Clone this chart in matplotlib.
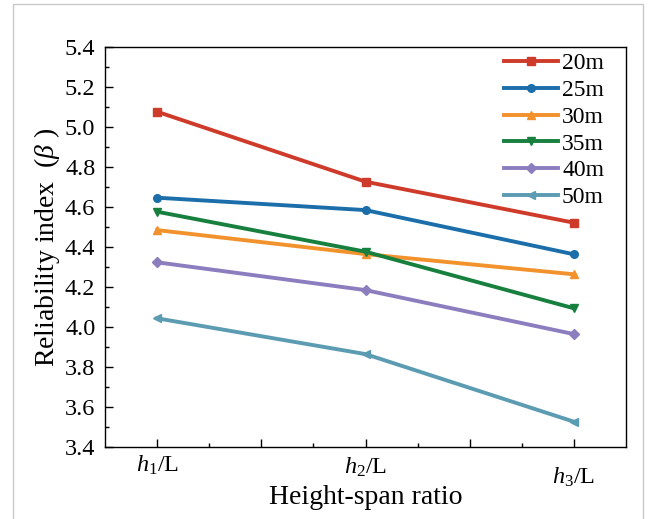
import matplotlib
matplotlib.use("Agg")
import matplotlib.pyplot as plt
from matplotlib.ticker import MultipleLocator, FixedLocator, FixedFormatter
from matplotlib.patches import Rectangle
import matplotlib.transforms as mtransforms

plt.rcParams['font.family'] = ['Liberation Serif', 'Noto Sans CJK SC', 'DejaVu Sans']
plt.rcParams['mathtext.fontset'] = 'custom'
plt.rcParams['mathtext.rm'] = 'Liberation Serif'
plt.rcParams['mathtext.it'] = 'Liberation Serif:italic'

# data
ratios = [1, 2, 3]
xtick_labels = [r'$h_1$/L', r'$h_2$/L', r'$h_3$/L']
series_names = ['20m', '25m', '30m', '35m', '40m', '50m']
v20 = [5.075, 4.725, 4.52]
v25 = [4.645, 4.583, 4.362]
v30 = [4.483, 4.363, 4.262]
v35 = [4.575, 4.375, 4.092]
v40 = [4.322, 4.183, 3.963]
v50 = [4.042, 3.863, 3.525]
values = [v20, v25, v30, v35, v40, v50]
colors = ['#CF3B2A', '#1B6EAA', '#F2922C', '#17803F', '#8C7DBF', '#5C9CB2']
markers = ['s', 'o', '^', 'v', 'D', '<']

fig = plt.figure(figsize=(6.56, 5.19), dpi=100)
fig.patches.append(Rectangle((13/656, -0.05), (643-13)/656, 1.05 - 4/519,
                             transform=fig.transFigure, fill=False,
                             edgecolor='#C8C8C8', linewidth=1.0))
ax = fig.add_axes([105/656, (519-446.7)/519, (626-105)/656, (446.7-46.7)/519])

for name, vals, c, m in zip(series_names, values, colors, markers):
    ms = 5.5 if m != 'D' else 5
    ax.plot(ratios, vals, color=c, marker=m, markersize=ms, linewidth=2.8, label=name)

ax.set_xlim(0.75, 3.25)
ax.set_ylim(3.4, 5.4)
ax.yaxis.set_major_locator(MultipleLocator(0.2))
ax.yaxis.set_minor_locator(MultipleLocator(0.1))
ax.yaxis.set_major_formatter(matplotlib.ticker.FormatStrFormatter('%.1f'))
major_x = [1, 1.5, 2, 2.5, 3]
ax.xaxis.set_major_locator(FixedLocator(major_x))
ax.xaxis.set_major_formatter(FixedFormatter([xtick_labels[0], '', xtick_labels[1], '', xtick_labels[2]]))
ax.xaxis.set_minor_locator(FixedLocator([1.25, 1.75, 2.25, 2.75]))

ax.tick_params(axis='both', which='major', direction='in', length=6, width=1.0, labelsize=17.5)
ax.tick_params(axis='both', which='minor', direction='in', length=3, width=1.0)
ax.tick_params(axis='x', which='major', pad=5)
ax.tick_params(axis='y', which='major', pad=7)
ax.tick_params(top=False, right=False, which='both')
for s in ax.spines.values():
    s.set_linewidth(1.0)

# the h2 and h3 labels sit a little lower in the reference
lbls = ax.get_xticklabels()
lbls[2].set_transform(lbls[2].get_transform() +
                      mtransforms.ScaledTranslation(0, -2/100, fig.dpi_scale_trans))
lbls[4].set_transform(lbls[4].get_transform() +
                      mtransforms.ScaledTranslation(0, -12/100, fig.dpi_scale_trans))

ax.set_xlabel('Height-span ratio', fontsize=20)
ax.xaxis.set_label_coords(0.5, -0.095)
ax.set_ylabel('Reliability index  ($β$ )', fontsize=20)
ax.yaxis.set_label_coords(-0.083, 0.5)

leg = ax.legend(loc='upper right', bbox_to_anchor=(0.985, 1.02), frameon=False,
                fontsize=17, handlelength=2.3, handletextpad=0.15,
                labelspacing=0.22, borderaxespad=0.2)

fig.savefig('out.png', dpi=100)
